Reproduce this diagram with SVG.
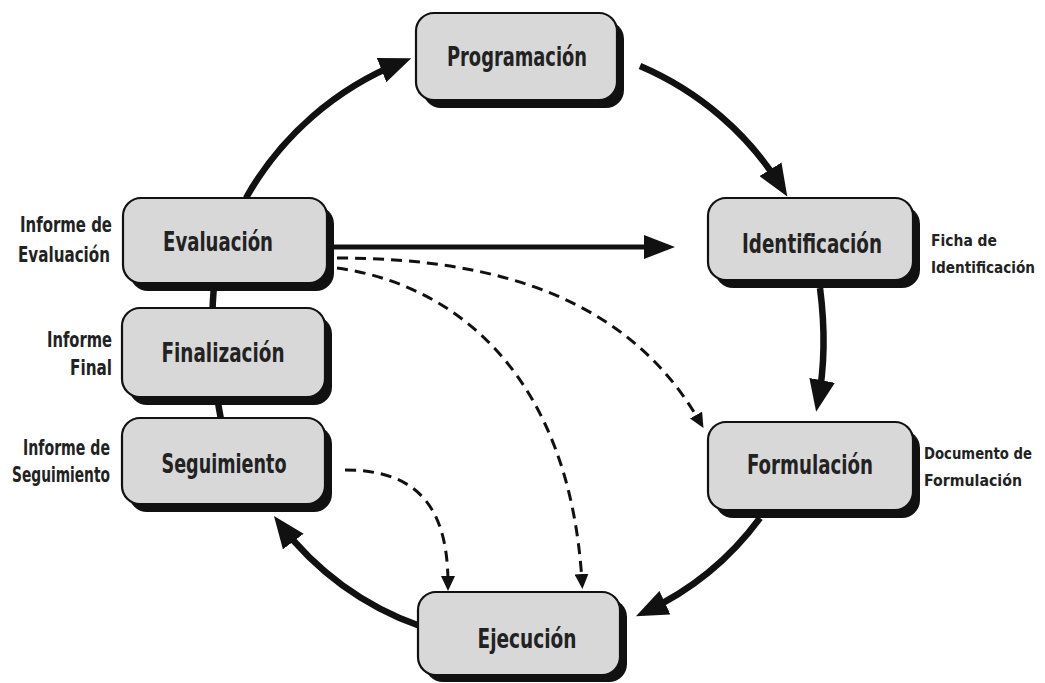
<svg xmlns="http://www.w3.org/2000/svg" width="1045" height="683" viewBox="0 0 1045 683">
<style>
.box{fill:#d8d8d8;stroke:#111;stroke-width:2.2}
.shadow{fill:#111}
.lbl{font-family:"Liberation Sans Narrow","DejaVu Sans Condensed","Liberation Sans",sans-serif;font-weight:bold;fill:#222;font-size:27px}
.side{font-family:"Liberation Sans Narrow","DejaVu Sans Condensed","Liberation Sans",sans-serif;font-weight:bold;fill:#222;font-size:21px}
.sider{font-family:"Liberation Sans Narrow","DejaVu Sans Condensed","Liberation Sans",sans-serif;font-weight:bold;fill:#222;font-size:16.5px}
.thick{fill:none;stroke:#111;stroke-width:6.5}
.solid{fill:none;stroke:#111;stroke-width:5}
.dash{fill:none;stroke:#111;stroke-width:3;stroke-dasharray:11 7}
</style>
<defs>
<marker id="ah" markerUnits="userSpaceOnUse" markerWidth="34" markerHeight="26" refX="22" refY="13" orient="auto"><path d="M0,0 L32,13 L0,26 z" fill="#111"/></marker>
<marker id="ahs" markerUnits="userSpaceOnUse" markerWidth="32" markerHeight="24" refX="24" refY="12" orient="auto"><path d="M0,0 L31,12 L0,24 z" fill="#111"/></marker>
<marker id="ahd" markerUnits="userSpaceOnUse" markerWidth="16" markerHeight="14" refX="8" refY="7" orient="auto"><path d="M0,0 L15,7 L0,14 z" fill="#111"/></marker>
</defs>
<g id="connectors">
<path class="thick" d="M 222 425 Q 208 355 214 285"/>
<path class="thick" d="M 246 198 A 310 310 0 0 1 402 62" marker-end="url(#ah)"/>
<path class="thick" d="M 640 66 A 310 310 0 0 1 782 188" marker-end="url(#ah)"/>
<path class="thick" d="M 820 288 Q 828 350 818 402" marker-end="url(#ah)"/>
<path class="thick" d="M 760 518 A 300 300 0 0 1 645 612" marker-end="url(#ah)"/>
<path class="thick" d="M 420 626 A 300 300 0 0 1 280 524" marker-end="url(#ah)"/>
<path class="solid" d="M 334 247 L 668 247" marker-end="url(#ahs)"/>
<path class="dash" d="M 337 258 C 500 258 630 300 700 422" marker-end="url(#ahd)"/>
<path class="dash" d="M 337 268 C 460 285 570 380 582 582" marker-end="url(#ahd)"/>
<path class="dash" d="M 345 470 C 420 470 448 510 448 584" marker-end="url(#ahd)"/>
</g>
<g id="programacion">
<rect class="shadow" x="423" y="21" width="201" height="87" rx="18"/>
<rect class="box" x="416" y="13" width="201" height="87" rx="18"/>
<text class="lbl" x="517" y="66" text-anchor="middle" textLength="140" lengthAdjust="spacingAndGlyphs">Programación</text>
</g>
<g id="evaluacion">
<rect class="shadow" x="130" y="206" width="204" height="85" rx="18"/>
<rect class="box" x="123" y="198" width="204" height="85" rx="18"/>
<text class="lbl" x="218" y="251" text-anchor="middle" textLength="110" lengthAdjust="spacingAndGlyphs">Evaluación</text>
<text class="side" x="112" y="232" text-anchor="end" textLength="92" lengthAdjust="spacingAndGlyphs">Informe de</text>
<text class="side" x="110" y="262" text-anchor="end" textLength="92" lengthAdjust="spacingAndGlyphs">Evaluación</text>
</g>
<g id="identificacion">
<rect class="shadow" x="715" y="206" width="205" height="82" rx="18"/>
<rect class="box" x="708" y="198" width="205" height="82" rx="18"/>
<text class="lbl" x="812" y="253" text-anchor="middle" textLength="140" lengthAdjust="spacingAndGlyphs">Identificación</text>
<text class="sider" x="931" y="246" textLength="66" lengthAdjust="spacingAndGlyphs">Ficha de</text>
<text class="sider" x="931" y="273" textLength="104" lengthAdjust="spacingAndGlyphs">Identificación</text>
</g>
<g id="finalizacion">
<rect class="shadow" x="129" y="316" width="203" height="89" rx="18"/>
<rect class="box" x="122" y="308" width="203" height="89" rx="18"/>
<text class="lbl" x="223" y="362" text-anchor="middle" textLength="123" lengthAdjust="spacingAndGlyphs">Finalización</text>
<text class="side" x="112" y="347" text-anchor="end" textLength="65" lengthAdjust="spacingAndGlyphs">Informe</text>
<text class="side" x="112" y="375" text-anchor="end" textLength="42" lengthAdjust="spacingAndGlyphs">Final</text>
</g>
<g id="seguimiento">
<rect class="shadow" x="129" y="426" width="203" height="86" rx="18"/>
<rect class="box" x="122" y="418" width="203" height="86" rx="18"/>
<text class="lbl" x="224" y="473" text-anchor="middle" textLength="125" lengthAdjust="spacingAndGlyphs">Seguimiento</text>
<text class="side" x="110" y="455" text-anchor="end" textLength="87" lengthAdjust="spacingAndGlyphs">Informe de</text>
<text class="side" x="110" y="482" text-anchor="end" textLength="98" lengthAdjust="spacingAndGlyphs">Seguimiento</text>
</g>
<g id="formulacion">
<rect class="shadow" x="715" y="430" width="205" height="88" rx="18"/>
<rect class="box" x="708" y="422" width="205" height="88" rx="18"/>
<text class="lbl" x="810" y="474" text-anchor="middle" textLength="126" lengthAdjust="spacingAndGlyphs">Formulación</text>
<text class="sider" x="924" y="459" textLength="108" lengthAdjust="spacingAndGlyphs">Documento de</text>
<text class="sider" x="924" y="486" textLength="98" lengthAdjust="spacingAndGlyphs">Formulación</text>
</g>
<g id="ejecucion">
<rect class="shadow" x="425" y="599" width="202" height="83" rx="18"/>
<rect class="box" x="418" y="592" width="202" height="83" rx="18"/>
<text class="lbl" x="527" y="648" text-anchor="middle" textLength="99" lengthAdjust="spacingAndGlyphs">Ejecución</text>
</g>
</svg>
